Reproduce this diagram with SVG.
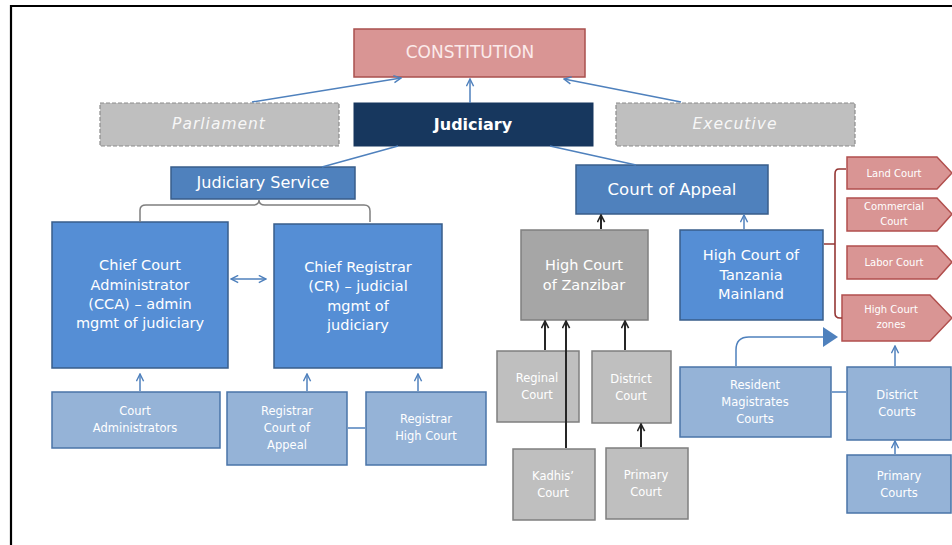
<svg xmlns="http://www.w3.org/2000/svg" width="952" height="545" viewBox="0 0 952 545">
<defs>
<marker id="ab" viewBox="0 0 10 10" refX="9" refY="5" markerWidth="9" markerHeight="9" markerUnits="userSpaceOnUse" orient="auto-start-reverse">
<path d="M1,1 L9,5 L1,9" fill="none" stroke="#4f81bd" stroke-width="1.6"/>
</marker>
<marker id="ak" viewBox="0 0 10 10" refX="9" refY="5" markerWidth="9" markerHeight="9" markerUnits="userSpaceOnUse" orient="auto">
<path d="M1,1 L9,5 L1,9" fill="none" stroke="#262626" stroke-width="1.8"/>
</marker>
</defs>
<style>
text{font-family:"DejaVu Sans","Liberation Sans",sans-serif;fill:#ffffff;text-anchor:middle;dominant-baseline:central}
.pink{fill:#d99594;stroke:#a9504e;stroke-width:1.5}
.dash{fill:#bfbfbf;stroke:#8c8c8c;stroke-width:1.2;stroke-dasharray:4 2}
.navy{fill:#17375e;stroke:#17375e}
.mid{fill:#4f81bd;stroke:#385d8a;stroke-width:1.5}
.bright{fill:#558ed5;stroke:#385d8a;stroke-width:1.5}
.light{fill:#95b3d7;stroke:#4a74a8;stroke-width:1.5}
.grayd{fill:#a6a6a6;stroke:#7f7f7f;stroke-width:1.5}
.grayl{fill:#bfbfbf;stroke:#7f7f7f;stroke-width:1.5}
.red{fill:#d99594;stroke:#b14f4d;stroke-width:1.5}
.bl{fill:none;stroke:#4f81bd;stroke-width:1.5}
.bk{fill:none;stroke:#262626;stroke-width:2}
.t15{font-size:14.5px}
.t12{font-size:11.5px}
.t10{font-size:10px}
</style>
<rect width="952" height="545" fill="#ffffff"/>
<path d="M11,545 V6 H952" fill="none" stroke="#000000" stroke-width="2.2"/>

<g id="constitution"><rect class="pink" x="354" y="29" width="231" height="48"/><text x="470" y="52" style="font-size:17px;fill:#fbeaea">CONSTITUTION</text></g>
<g id="parliament"><rect class="dash" x="100" y="103" width="239" height="43"/><text x="219" y="124" style="font-size:15.5px;font-style:italic;fill:#f7f7f7;letter-spacing:1px">Parliament</text></g>
<g id="judiciary"><rect class="navy" x="354" y="103" width="239" height="43"/><text x="473" y="124" style="font-size:16px;font-weight:bold">Judiciary</text></g>
<g id="executive"><rect class="dash" x="616" y="103" width="239" height="43"/><text x="735" y="124" style="font-size:15.5px;font-style:italic;fill:#f7f7f7;letter-spacing:1px">Executive</text></g>
<g id="judiciary-service"><rect class="mid" x="171" y="167" width="184" height="32"/><text x="263" y="182" style="font-size:16px">Judiciary Service</text></g>
<g id="court-of-appeal"><rect class="mid" x="576" y="165" width="192" height="49"/><text x="672" y="189" style="font-size:16.5px">Court of Appeal</text></g>

<g id="cca"><rect class="bright" x="52" y="222" width="176" height="146"/>
<text class="t15" x="140" y="265">Chief Court</text><text class="t15" x="140" y="285">Administrator</text><text class="t15" x="140" y="304">(CCA) – admin</text><text class="t15" x="140" y="323">mgmt of judiciary</text></g>
<g id="cr"><rect class="bright" x="274" y="224" width="168" height="144"/>
<text class="t15" x="358" y="267">Chief Registrar</text><text class="t15" x="358" y="286">(CR) – judicial</text><text class="t15" x="358" y="306">mgmt of</text><text class="t15" x="358" y="325">judiciary</text></g>
<g id="court-admins"><rect class="light" x="52" y="392" width="168" height="56"/><text class="t12" x="135" y="411">Court</text><text class="t12" x="135" y="428">Administrators</text></g>
<g id="reg-coa"><rect class="light" x="227" y="392" width="120" height="73"/><text class="t12" x="287" y="411">Registrar</text><text class="t12" x="287" y="428">Court of</text><text class="t12" x="287" y="445">Appeal</text></g>
<g id="reg-hc"><rect class="light" x="366" y="392" width="120" height="73"/><text class="t12" x="426" y="419">Registrar</text><text class="t12" x="426" y="436">High Court</text></g>

<g id="hc-zanzibar"><rect class="grayd" x="521" y="230" width="127" height="90"/><text class="t15" x="584" y="265">High Court</text><text class="t15" x="584" y="285">of Zanzibar</text></g>
<g id="hc-tanzania"><rect class="bright" x="680" y="230" width="143" height="90"/><text class="t15" x="751" y="255">High Court of</text><text class="t15" x="751" y="275">Tanzania</text><text class="t15" x="751" y="294">Mainland</text></g>
<g id="reginal-court"><rect class="grayl" x="497" y="351" width="82" height="71"/><text class="t12" x="537" y="378">Reginal</text><text class="t12" x="537" y="395">Court</text></g>
<g id="district-court"><rect class="grayl" x="592" y="351" width="79" height="72"/><text class="t12" x="631" y="379">District</text><text class="t12" x="631" y="396">Court</text></g>
<g id="kadhis-court"><rect class="grayl" x="513" y="449" width="82" height="71"/><text class="t12" x="553" y="476">Kadhis’</text><text class="t12" x="553" y="493">Court</text></g>
<g id="primary-court"><rect class="grayl" x="606" y="448" width="82" height="71"/><text class="t12" x="646" y="475">Primary</text><text class="t12" x="646" y="492">Court</text></g>

<g id="land-court"><path class="red" d="M847,157 H937 L952,173 L937,189 H847 Z"/><text class="t10" x="894" y="173">Land Court</text></g>
<g id="commercial-court"><path class="red" d="M847,198 H937 L952,214 L937,231 H847 Z"/><text class="t10" x="894" y="206">Commercial</text><text class="t10" x="894" y="221">Court</text></g>
<g id="labor-court"><path class="red" d="M847,246 H937 L952,262 L937,279 H847 Z"/><text class="t10" x="894" y="262">Labor Court</text></g>
<g id="hc-zones"><path class="red" d="M842,295 H930 L952,318 L930,341 H842 Z"/><text class="t10" x="891" y="309">High Court</text><text class="t10" x="891" y="324">zones</text></g>

<g id="rm-courts"><rect class="light" x="680" y="367" width="151" height="70"/><text class="t12" x="755" y="385">Resident</text><text class="t12" x="755" y="402">Magistrates</text><text class="t12" x="755" y="419">Courts</text></g>
<g id="district-courts"><rect class="light" x="847" y="367" width="104" height="73"/><text class="t12" x="897" y="395">District</text><text class="t12" x="897" y="412">Courts</text></g>
<g id="primary-courts"><rect class="light" x="847" y="455" width="104" height="58"/><text class="t12" x="899" y="476">Primary</text><text class="t12" x="899" y="493">Courts</text></g>

<g id="connectors">
<path class="bl" d="M252,102 L401,78" marker-end="url(#ab)"/>
<path class="bl" d="M470,103 L470,79" marker-end="url(#ab)"/>
<path class="bl" d="M681,102 L564,79" marker-end="url(#ab)"/>
<path class="bl" d="M398,146 L322,167"/>
<path class="bl" d="M550,146 L636,165"/>
<path d="M140,222 V210 Q140,205 146,205 H253 Q259,205 259,200 Q259,205 265,205 H364 Q370,205 370,211 V222" fill="none" stroke="#7f7f7f" stroke-width="1.5"/>
<path class="bl" d="M231,279 L266,279" marker-start="url(#ab)" marker-end="url(#ab)"/>
<path class="bl" d="M140,391 L140,374" marker-end="url(#ab)"/>
<path class="bl" d="M307,391 L307,374" marker-end="url(#ab)"/>
<path class="bl" d="M418,391 L418,374" marker-end="url(#ab)"/>
<path class="bl" d="M348,428 L365,428"/>
<path class="bk" d="M601,229 L601,215" marker-end="url(#ak)"/>
<path class="bl" d="M744,229 L744,215" marker-end="url(#ab)"/>
<path class="bk" d="M545,350 L545,321" marker-end="url(#ak)"/>
<path class="bk" d="M566,448 L566,321" marker-end="url(#ak)"/>
<path class="bk" d="M625,350 L625,321" marker-end="url(#ak)"/>
<path class="bk" d="M641,447 L641,424" marker-end="url(#ak)"/>
<path d="M846,169 H839 Q835,169 835,174 V313 Q835,318 840,318 H842 M824,244 H835" fill="none" stroke="#953735" stroke-width="1.6"/>
<path class="bl" d="M736,366 V350 Q736,337 749,337 H824"/>
<path d="M823,327 L838,337 L823,347 Z" fill="#4f81bd"/>
<path class="bl" d="M832,392 L846,392"/>
<path class="bl" d="M895,366 L895,346" marker-end="url(#ab)"/>
<path class="bl" d="M895,454 L895,441" marker-end="url(#ab)"/>
</g>
</svg>
